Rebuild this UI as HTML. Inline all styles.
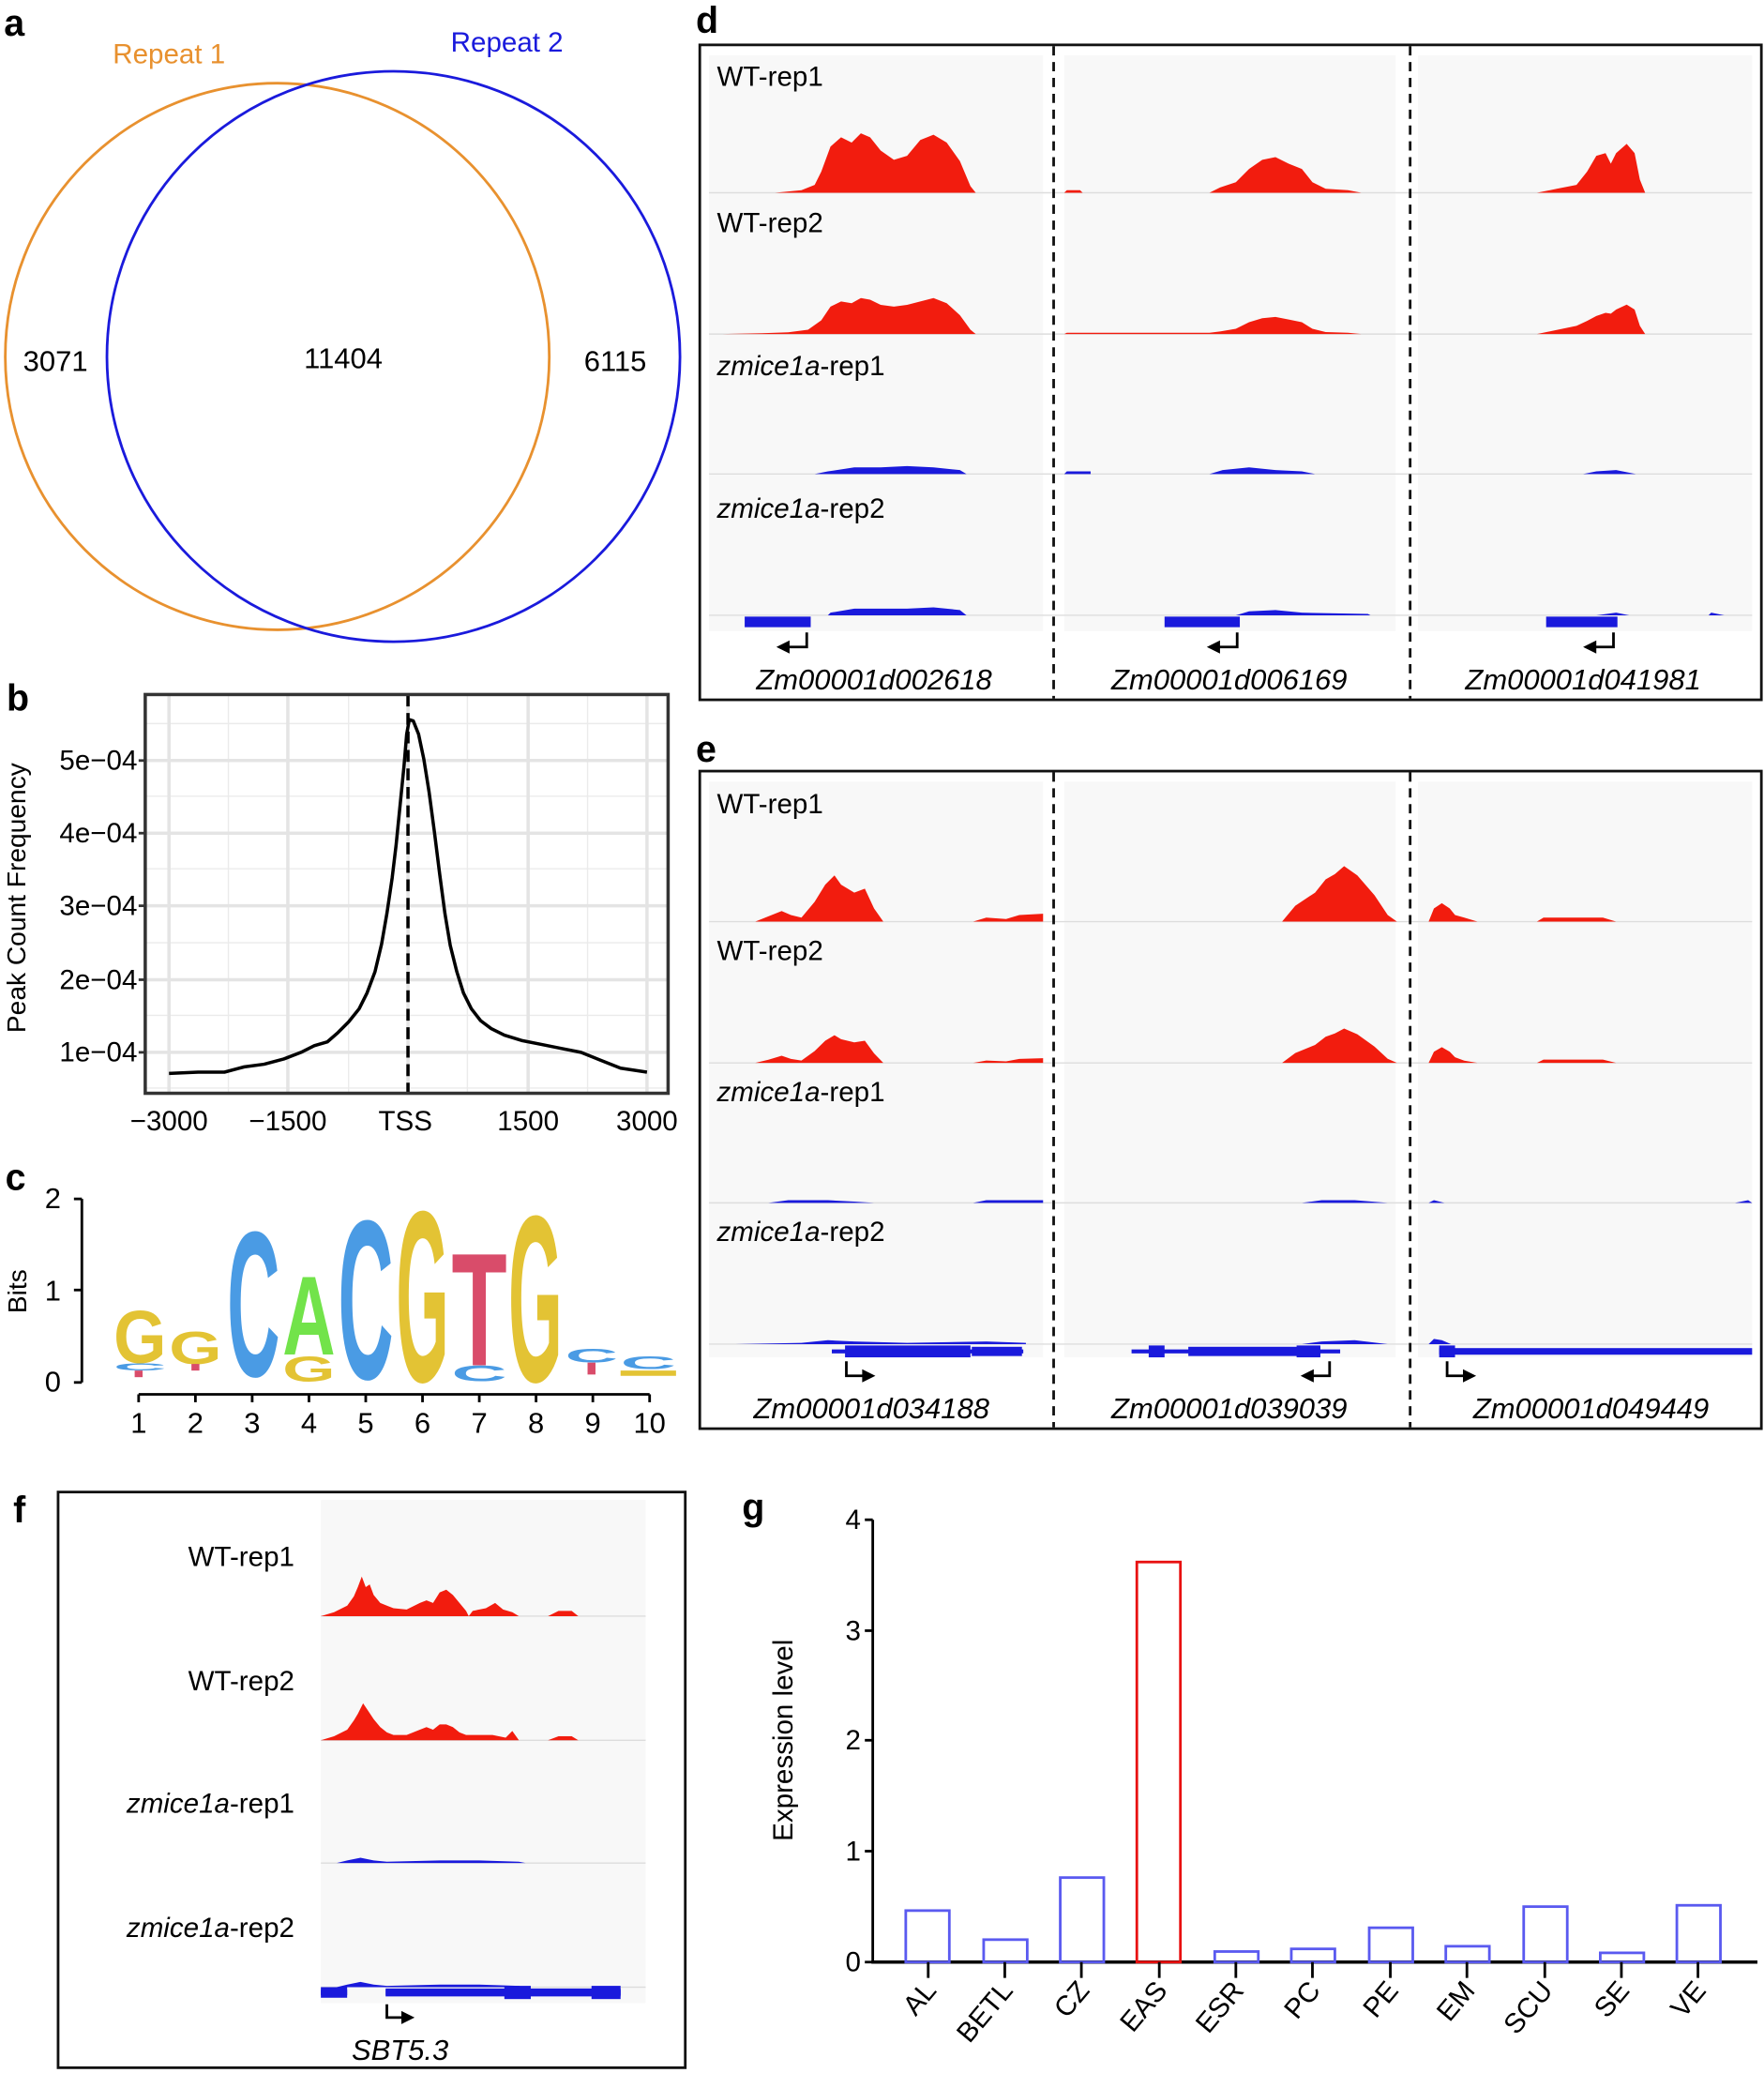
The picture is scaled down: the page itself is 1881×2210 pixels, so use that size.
<!DOCTYPE html>
<html><head><meta charset="utf-8"><style>
html,body{margin:0;padding:0;background:#fff}
svg{display:block}
text{font-family:"Liberation Sans",Arial,sans-serif}
</style></head><body>
<svg width="1881" height="2210" viewBox="0 0 1336 1570" preserveAspectRatio="none" xmlns="http://www.w3.org/2000/svg">
<rect width="1336" height="1570" fill="#fff"/>
<!-- panel a -->
<text x="3" y="27" font-size="28" font-weight="bold">a</text>
<text x="128" y="48" font-size="21" fill="#e8912f" text-anchor="middle">Repeat 1</text>
<text x="384" y="39" font-size="21" fill="#1a1adc" text-anchor="middle">Repeat 2</text>
<ellipse cx="210" cy="270" rx="206" ry="207" fill="none" stroke="#e8912f" stroke-width="2"/>
<ellipse cx="298" cy="270" rx="217" ry="216" fill="none" stroke="#1a1adc" stroke-width="2"/>
<text x="42" y="281" font-size="22" text-anchor="middle">3071</text>
<text x="260" y="279" font-size="22" text-anchor="middle">11404</text>
<text x="466" y="281" font-size="22" text-anchor="middle">6115</text>
<!-- panel b -->
<text x="5" y="538" font-size="28" font-weight="bold">b</text>
<g stroke="#ebebeb" stroke-width="1">
<line x1="110" x2="506" y1="548" y2="548"/><line x1="110" x2="506" y1="603" y2="603"/><line x1="110" x2="506" y1="658" y2="658"/><line x1="110" x2="506" y1="714" y2="714"/><line x1="110" x2="506" y1="769" y2="769"/><line x1="110" x2="506" y1="824" y2="824"/>
<line x1="173" x2="173" y1="526" y2="828"/><line x1="264" x2="264" y1="526" y2="828"/><line x1="354" x2="354" y1="526" y2="828"/><line x1="445" x2="445" y1="526" y2="828"/>
</g>
<g stroke="#e4e4e4" stroke-width="2.5">
<line x1="110" x2="506" y1="576" y2="576"/><line x1="110" x2="506" y1="631" y2="631"/><line x1="110" x2="506" y1="686" y2="686"/><line x1="110" x2="506" y1="742" y2="742"/><line x1="110" x2="506" y1="797" y2="797"/>
<line x1="128" x2="128" y1="526" y2="828"/><line x1="218" x2="218" y1="526" y2="828"/><line x1="309" x2="309" y1="526" y2="828"/><line x1="400" x2="400" y1="526" y2="828"/><line x1="490" x2="490" y1="526" y2="828"/>
</g>
<polyline fill="none" stroke="#000" stroke-width="2.5" stroke-linejoin="round" points="128,813 150,812 170,812 185,808 200,806 215,802 228,797 238,792 248,789 256,782 264,774 272,764 278,752 284,736 289,715 293,692 297,665 300,640 303,610 306,580 308,556 310,545 313,546 317,556 321,575 325,600 329,630 333,662 337,692 341,716 346,736 351,752 357,764 364,773 372,779 382,784 395,788 410,791 425,794 440,797 455,803 470,809 490,812"/>
<line x1="309" y1="526" x2="309" y2="828" stroke="#000" stroke-width="2.5" stroke-dasharray="9,5"/>
<rect x="110" y="526" width="396" height="302" fill="none" stroke="#333" stroke-width="2.5"/>
<g font-size="21" text-anchor="end">
<text x="104" y="583">5e−04</text><text x="104" y="638">4e−04</text><text x="104" y="693">3e−04</text><text x="104" y="749">2e−04</text><text x="104" y="804">1e−04</text>
</g>
<g stroke="#333" stroke-width="2"><line x1="105" x2="110" y1="576" y2="576"/><line x1="105" x2="110" y1="631" y2="631"/><line x1="105" x2="110" y1="686" y2="686"/><line x1="105" x2="110" y1="742" y2="742"/><line x1="105" x2="110" y1="797" y2="797"/></g>
<g font-size="21" text-anchor="middle">
<text x="128" y="856">−3000</text><text x="218" y="856">−1500</text><text x="307" y="856">TSS</text><text x="400" y="856">1500</text><text x="490" y="856">3000</text>
</g>
<text transform="translate(19,680) rotate(-90)" font-size="20" text-anchor="middle">Peak Count Frequency</text>
<!-- panel c -->
<text x="4" y="901" font-size="28" font-weight="bold">c</text>
<line x1="62" y1="908" x2="62" y2="1047" stroke="#000" stroke-width="2"/>
<g stroke="#000" stroke-width="2"><line x1="56" x2="62" y1="908" y2="908"/><line x1="56" x2="62" y1="977" y2="977"/><line x1="56" x2="62" y1="1047" y2="1047"/></g>
<g font-size="22" text-anchor="middle"><text x="40" y="915">2</text><text x="40" y="985">1</text><text x="40" y="1054">0</text></g>
<text transform="translate(20,978) rotate(-90)" font-size="20" text-anchor="middle">Bits</text>
<line x1="105" y1="1056" x2="492" y2="1056" stroke="#000" stroke-width="2"/>
<g stroke="#000" stroke-width="2">
<line x1="105" x2="105" y1="1056" y2="1062"/><line x1="148" x2="148" y1="1056" y2="1062"/><line x1="191" x2="191" y1="1056" y2="1062"/><line x1="234" x2="234" y1="1056" y2="1062"/><line x1="277" x2="277" y1="1056" y2="1062"/><line x1="320" x2="320" y1="1056" y2="1062"/><line x1="363" x2="363" y1="1056" y2="1062"/><line x1="406" x2="406" y1="1056" y2="1062"/><line x1="449" x2="449" y1="1056" y2="1062"/><line x1="492" x2="492" y1="1056" y2="1062"/>
</g>
<g font-size="22" text-anchor="middle">
<text x="105" y="1085">1</text><text x="148" y="1085">2</text><text x="191" y="1085">3</text><text x="234" y="1085">4</text><text x="277" y="1085">5</text><text x="320" y="1085">6</text><text x="363" y="1085">7</text><text x="406" y="1085">8</text><text x="449" y="1085">9</text><text x="492" y="1085">10</text>
</g>
<g font-weight="bold">
<text x="86" y="1032" font-size="57" textLength="40" lengthAdjust="spacingAndGlyphs" fill="#e3c334">G</text>
<text x="86" y="1038" font-size="8" textLength="40" lengthAdjust="spacingAndGlyphs" fill="#4a9be4">C</text>
<rect x="102" y="1038" width="6" height="5" fill="#d94c6a"/>
<text x="128" y="1033" font-size="35" textLength="40" lengthAdjust="spacingAndGlyphs" fill="#e3c334">G</text>
<rect x="145" y="1033" width="6" height="5" fill="#d94c6a"/>
<text x="172" y="1042" font-size="157" textLength="40" lengthAdjust="spacingAndGlyphs" fill="#4a9be4">C</text>
<text x="214" y="1026" font-size="85" textLength="40" lengthAdjust="spacingAndGlyphs" fill="#72e34a">A</text>
<text x="214" y="1046" font-size="27" textLength="40" lengthAdjust="spacingAndGlyphs" fill="#e3c334">G</text>
<text x="256" y="1044" font-size="172" textLength="42" lengthAdjust="spacingAndGlyphs" fill="#4a9be4">C</text>
<text x="300" y="1046" font-size="185" textLength="40" lengthAdjust="spacingAndGlyphs" fill="#e3c334">G</text>
<text x="342" y="1034" font-size="122" textLength="42" lengthAdjust="spacingAndGlyphs" fill="#d94c6a">T</text>
<text x="342" y="1046" font-size="17" textLength="42" lengthAdjust="spacingAndGlyphs" fill="#4a9be4">C</text>
<text x="385" y="1046" font-size="180" textLength="41" lengthAdjust="spacingAndGlyphs" fill="#e3c334">G</text>
<text x="428" y="1032" font-size="15" textLength="40" lengthAdjust="spacingAndGlyphs" fill="#4a9be4">C</text>
<rect x="445" y="1032" width="6" height="9" fill="#d94c6a"/>
<text x="470" y="1037" font-size="14" textLength="42" lengthAdjust="spacingAndGlyphs" fill="#4a9be4">C</text>
<rect x="470" y="1038" width="42" height="4" fill="#e3c334"/>
</g>
<!-- panel d -->
<text x="527" y="25" font-size="28" font-weight="bold">d</text>
<rect x="530" y="34" width="804" height="496" fill="none" stroke="#111" stroke-width="2"/>
<rect x="537" y="42" width="253" height="436" fill="#f8f8f8"/>
<rect x="806" y="42" width="251" height="436" fill="#f8f8f8"/>
<rect x="1074" y="42" width="253" height="436" fill="#f8f8f8"/>
<g stroke="#ddd" stroke-width="1">
<line x1="537" x2="1327" y1="146" y2="146"/><line x1="537" x2="1327" y1="253" y2="253"/><line x1="537" x2="1327" y1="359" y2="359"/><line x1="537" x2="1327" y1="466" y2="466"/>
</g>
<g stroke="#111" stroke-width="2" stroke-dasharray="7,5"><line x1="798" x2="798" y1="35" y2="529"/><line x1="1068" x2="1068" y1="35" y2="529"/></g>
<g fill="#f21c0e">
<polygon transform="translate(537,146) scale(1,-1)" points="50,0 70,2 80,6 85,16 92,35 100,42 108,38 115,45 122,42 130,32 140,25 150,28 160,40 170,44 180,38 190,24 198,5 202,0"/>
<polygon transform="translate(537,253) scale(1,-0.65)" points="10,0 40,1 60,2 75,5 85,16 92,32 100,38 108,36 115,42 122,40 130,34 140,32 150,34 160,38 170,42 180,36 190,22 198,5 202,0"/>
<polygon transform="translate(806,146) scale(1,-1)" points="0,0 2,2 12,2 14,0 110,0 118,4 130,8 140,18 150,25 160,27 170,22 180,18 188,8 198,3 215,2 225,0"/>
<polygon transform="translate(806,253) scale(1,-0.5)" points="0,0 2,2 40,2 80,2 110,2 118,4 130,8 140,18 150,24 160,26 170,22 180,18 188,8 198,3 215,2 225,0"/>
<polygon transform="translate(1074,146) scale(1,-1)" points="90,0 105,3 120,6 128,16 135,28 142,30 146,22 150,30 158,37 164,30 168,10 172,0"/>
<polygon transform="translate(1074,253) scale(1,-0.62)" points="90,0 105,5 120,10 128,16 135,22 142,26 146,25 150,30 158,36 164,30 168,10 172,0"/>
</g>
<g fill="#1a1adc">
<polygon transform="translate(537,359) scale(1,-1)" points="80,0 90,2 110,5 130,5 150,6 170,5 190,3 195,0"/>
<polygon transform="translate(537,466) scale(1,-1)" points="50,0 90,0 92,2 110,5 130,5 150,5 170,6 190,4 195,0"/>
<polygon transform="translate(806,359) scale(1,-1)" points="0,0 2,2 20,2 20,0 110,0 120,3 140,5 160,3 180,2 190,0"/>
<polygon transform="translate(806,466) scale(1,-1)" points="130,0 140,3 160,4 180,2 230,1 232,0"/>
<polygon transform="translate(1074,359) scale(1,-1)" points="125,0 135,2 150,3 165,0"/>
<polygon transform="translate(1074,466) scale(1,-1)" points="135,0 150,2 160,0 220,0 222,2 232,0"/>
</g>
<g fill="#1a1adc">
<rect x="564" y="467" width="50" height="8"/><rect x="882" y="467" width="57" height="8"/><rect x="1171" y="467" width="54" height="8"/>
</g>
<g stroke="#000" stroke-width="2" fill="none">
<polyline points="611,479 611,490 595,490"/><polyline points="937,479 937,490 921,490"/><polyline points="1222,479 1222,490 1206,490"/>
</g>
<g fill="#000"><polygon points="588,490 598,485 598,495"/><polygon points="914,490 924,485 924,495"/><polygon points="1199,490 1209,485 1209,495"/></g>
<g font-size="22" font-style="italic" text-anchor="middle">
<text x="662" y="522">Zm00001d002618</text><text x="931" y="522">Zm00001d006169</text><text x="1199" y="522">Zm00001d041981</text>
</g>
<g font-size="21">
<text x="543" y="65">WT-rep1</text><text x="543" y="176">WT-rep2</text>
<text x="543" y="284"><tspan font-style="italic">zmice1a</tspan>-rep1</text>
<text x="543" y="392"><tspan font-style="italic">zmice1a</tspan>-rep2</text>
</g>
<!-- panel e -->
<text x="527" y="577" font-size="28" font-weight="bold">e</text>
<rect x="530" y="584" width="804" height="498" fill="none" stroke="#111" stroke-width="2"/>
<rect x="537" y="592" width="253" height="436" fill="#f8f8f8"/>
<rect x="806" y="592" width="251" height="436" fill="#f8f8f8"/>
<rect x="1074" y="592" width="253" height="436" fill="#f8f8f8"/>
<g stroke="#ddd" stroke-width="1">
<line x1="537" x2="1327" y1="698" y2="698"/><line x1="537" x2="1327" y1="805" y2="805"/><line x1="537" x2="1327" y1="911" y2="911"/><line x1="537" x2="1327" y1="1018" y2="1018"/>
</g>
<g stroke="#111" stroke-width="2" stroke-dasharray="7,5"><line x1="798" x2="798" y1="585" y2="1081"/><line x1="1068" x2="1068" y1="585" y2="1081"/></g>
<g fill="#f21c0e">
<polygon transform="translate(537,698) scale(1,-1)" points="35,0 45,4 55,8 62,5 70,3 80,15 88,28 95,35 100,28 110,22 118,25 125,10 132,0"/>
<polygon transform="translate(537,698) scale(1,-1)" points="200,0 210,3 225,2 235,5 253,6 253,0"/>
<polygon transform="translate(537,805) scale(1,-0.6)" points="35,0 45,4 55,9 62,5 70,3 80,15 88,28 95,35 100,30 110,26 118,28 125,12 132,0"/>
<polygon transform="translate(537,805) scale(1,-0.6)" points="200,0 210,3 225,2 235,5 253,6 253,0"/>
<polygon transform="translate(806,698) scale(1,-1)" points="165,0 175,12 190,22 198,32 205,36 212,42 222,35 235,20 245,5 252,0"/>
<polygon transform="translate(806,805) scale(1,-0.62)" points="165,0 175,12 190,22 198,32 205,36 212,42 222,35 235,20 245,5 252,0"/>
<polygon transform="translate(1074,698) scale(1,-1)" points="8,0 12,10 18,14 24,10 28,5 35,3 45,0 90,0 95,3 140,3 150,0"/>
<polygon transform="translate(1074,805) scale(1,-0.85)" points="8,0 12,10 18,14 24,10 28,5 35,2 45,0 90,0 95,3 140,3 150,0"/>
</g>
<g fill="#1a1adc">
<polygon transform="translate(537,911) scale(1,-1)" points="45,0 60,2 90,2 110,1 125,0 200,0 210,2 253,2 253,0"/>
<polygon transform="translate(537,1018) scale(1,-1)" points="20,0 70,1 90,3 110,2 150,1 210,2 240,1 240,0"/>
<polygon transform="translate(806,911) scale(1,-1)" points="180,0 195,2 220,2 245,0"/>
<polygon transform="translate(806,1018) scale(1,-1)" points="180,0 195,2 220,3 245,0"/>
<polygon transform="translate(1074,911) scale(1,-1)" points="8,0 12,2 20,0 240,0 250,2 253,0"/>
<polygon transform="translate(1074,1018) scale(1,-1)" points="8,0 12,4 18,3 25,0"/>
</g>
<g fill="#1a1adc">
<rect x="630" y="1022" width="145" height="3"/><rect x="640" y="1019" width="95" height="9"/><rect x="736" y="1020" width="38" height="7"/>
<rect x="857" y="1022" width="158" height="3"/><rect x="870" y="1019" width="12" height="9"/><rect x="982" y="1019" width="18" height="9"/><rect x="900" y="1020" width="100" height="7"/>
<rect x="1090" y="1021" width="237" height="5"/><rect x="1090" y="1019" width="12" height="9"/>
</g>
<g stroke="#000" stroke-width="2" fill="none">
<polyline points="641,1031 641,1042 655,1042"/><polyline points="1007,1031 1007,1042 993,1042"/><polyline points="1096,1031 1096,1042 1110,1042"/>
</g>
<g fill="#000"><polygon points="663,1042 653,1037 653,1047"/><polygon points="985,1042 995,1037 995,1047"/><polygon points="1118,1042 1108,1037 1108,1047"/></g>
<g font-size="22" font-style="italic" text-anchor="middle">
<text x="660" y="1074">Zm00001d034188</text><text x="931" y="1074">Zm00001d039039</text><text x="1205" y="1074">Zm00001d049449</text>
</g>
<g font-size="21">
<text x="543" y="616">WT-rep1</text><text x="543" y="727">WT-rep2</text>
<text x="543" y="834"><tspan font-style="italic">zmice1a</tspan>-rep1</text>
<text x="543" y="940"><tspan font-style="italic">zmice1a</tspan>-rep2</text>
</g>
<!-- panel f -->
<text x="10" y="1153" font-size="28" font-weight="bold">f</text>
<rect x="44" y="1130" width="475" height="436" fill="none" stroke="#111" stroke-width="2"/>
<rect x="243" y="1136" width="246" height="381" fill="#f8f8f8"/>
<g stroke="#ddd" stroke-width="1"><line x1="243" x2="489" y1="1224" y2="1224"/><line x1="243" x2="489" y1="1318" y2="1318"/><line x1="243" x2="489" y1="1411" y2="1411"/><line x1="243" x2="489" y1="1505" y2="1505"/></g>
<g fill="#f21c0e">
<polygon transform="translate(243,1224) scale(1,-1)" points="0,0 10,3 20,8 25,15 28,22 31,30 34,22 37,24 40,16 45,10 50,8 55,6 65,5 75,10 80,12 85,10 90,18 95,20 100,16 105,10 110,4 112,0 115,4 125,6 132,10 138,5 145,3 150,0 172,0 180,4 190,4 195,0"/>
<polygon transform="translate(243,1318) scale(1,-1)" points="0,0 10,3 20,8 25,15 28,20 32,28 36,22 40,16 45,10 50,6 55,4 65,4 75,8 80,10 85,8 90,12 95,12 100,10 105,6 110,4 120,4 130,4 140,2 145,7 150,0 172,0 180,3 190,3 195,0"/>
</g>
<g fill="#1a1adc">
<polygon transform="translate(243,1411) scale(1,-1)" points="12,0 20,2 30,4 40,2 50,1 90,2 120,2 150,1 155,0"/>
<polygon transform="translate(243,1505) scale(1,-1)" points="12,0 20,2 30,4 40,2 50,1 90,2 120,2 150,1 155,0"/>
<rect x="243" y="1507" width="227" height="4"/><rect x="243" y="1505" width="20" height="8"/>
<rect x="292" y="1506" width="178" height="6"/><rect x="382" y="1504" width="20" height="10"/><rect x="448" y="1504" width="22" height="10"/>
</g>
<rect x="263" y="1505" width="29" height="9" fill="#f8f8f8"/>
<polyline points="293,1518 293,1528 306,1528" stroke="#000" stroke-width="2" fill="none"/>
<polygon points="314,1528 304,1523 304,1533" fill="#000"/>
<text x="303" y="1560" font-size="22" font-style="italic" text-anchor="middle">SBT5.3</text>
<g font-size="21" text-anchor="end">
<text x="223" y="1186">WT-rep1</text><text x="223" y="1280">WT-rep2</text>
<text x="223" y="1373"><tspan font-style="italic">zmice1a</tspan>-rep1</text>
<text x="223" y="1467"><tspan font-style="italic">zmice1a</tspan>-rep2</text>
</g>
<!-- panel g -->
<text x="562" y="1151" font-size="28" font-weight="bold">g</text>
<line x1="661" y1="1151" x2="661" y2="1487" stroke="#000" stroke-width="2"/>
<line x1="660" y1="1486" x2="1331" y2="1486" stroke="#000" stroke-width="2.5"/>
<g stroke="#000" stroke-width="2">
<line x1="655" x2="661" y1="1151" y2="1151"/><line x1="655" x2="661" y1="1235" y2="1235"/><line x1="655" x2="661" y1="1318" y2="1318"/><line x1="655" x2="661" y1="1402" y2="1402"/><line x1="655" x2="661" y1="1486" y2="1486"/>
</g>
<g font-size="21" text-anchor="end"><text x="652" y="1158">4</text><text x="652" y="1242">3</text><text x="652" y="1325">2</text><text x="652" y="1409">1</text><text x="652" y="1493">0</text></g>
<text transform="translate(600,1318) rotate(-90)" font-size="21" text-anchor="middle">Expression level</text>
<g fill="none" stroke="#5a5af0" stroke-width="2">
<rect x="686" y="1447" width="33" height="39"/><rect x="745" y="1469" width="33" height="17"/><rect x="803" y="1422" width="33" height="64"/>
<rect x="920" y="1478" width="33" height="8"/><rect x="978" y="1476" width="33" height="10"/><rect x="1037" y="1460" width="33" height="26"/>
<rect x="1095" y="1474" width="33" height="12"/><rect x="1154" y="1444" width="33" height="42"/><rect x="1212" y="1479" width="33" height="7"/><rect x="1270" y="1443" width="33" height="43"/>
</g>
<rect x="861" y="1183" width="33" height="303" fill="none" stroke="#e81010" stroke-width="2"/>
<g stroke="#000" stroke-width="2">
<line x1="703" x2="703" y1="1486" y2="1498"/><line x1="761" x2="761" y1="1486" y2="1498"/><line x1="819" x2="819" y1="1486" y2="1498"/><line x1="878" x2="878" y1="1486" y2="1498"/><line x1="936" x2="936" y1="1486" y2="1498"/><line x1="994" x2="994" y1="1486" y2="1498"/><line x1="1053" x2="1053" y1="1486" y2="1498"/><line x1="1111" x2="1111" y1="1486" y2="1498"/><line x1="1170" x2="1170" y1="1486" y2="1498"/><line x1="1228" x2="1228" y1="1486" y2="1498"/><line x1="1286" x2="1286" y1="1486" y2="1498"/>
</g>
<g font-size="21" text-anchor="end">
<text transform="translate(710,1508) rotate(-50)">AL</text>
<text transform="translate(768,1508) rotate(-50)">BETL</text>
<text transform="translate(826,1508) rotate(-50)">CZ</text>
<text transform="translate(885,1508) rotate(-50)">EAS</text>
<text transform="translate(943,1508) rotate(-50)">ESR</text>
<text transform="translate(1001,1508) rotate(-50)">PC</text>
<text transform="translate(1060,1508) rotate(-50)">PE</text>
<text transform="translate(1118,1508) rotate(-50)">EM</text>
<text transform="translate(1177,1508) rotate(-50)">SCU</text>
<text transform="translate(1235,1508) rotate(-50)">SE</text>
<text transform="translate(1293,1508) rotate(-50)">VE</text>
</g>
</svg>
</body></html>
